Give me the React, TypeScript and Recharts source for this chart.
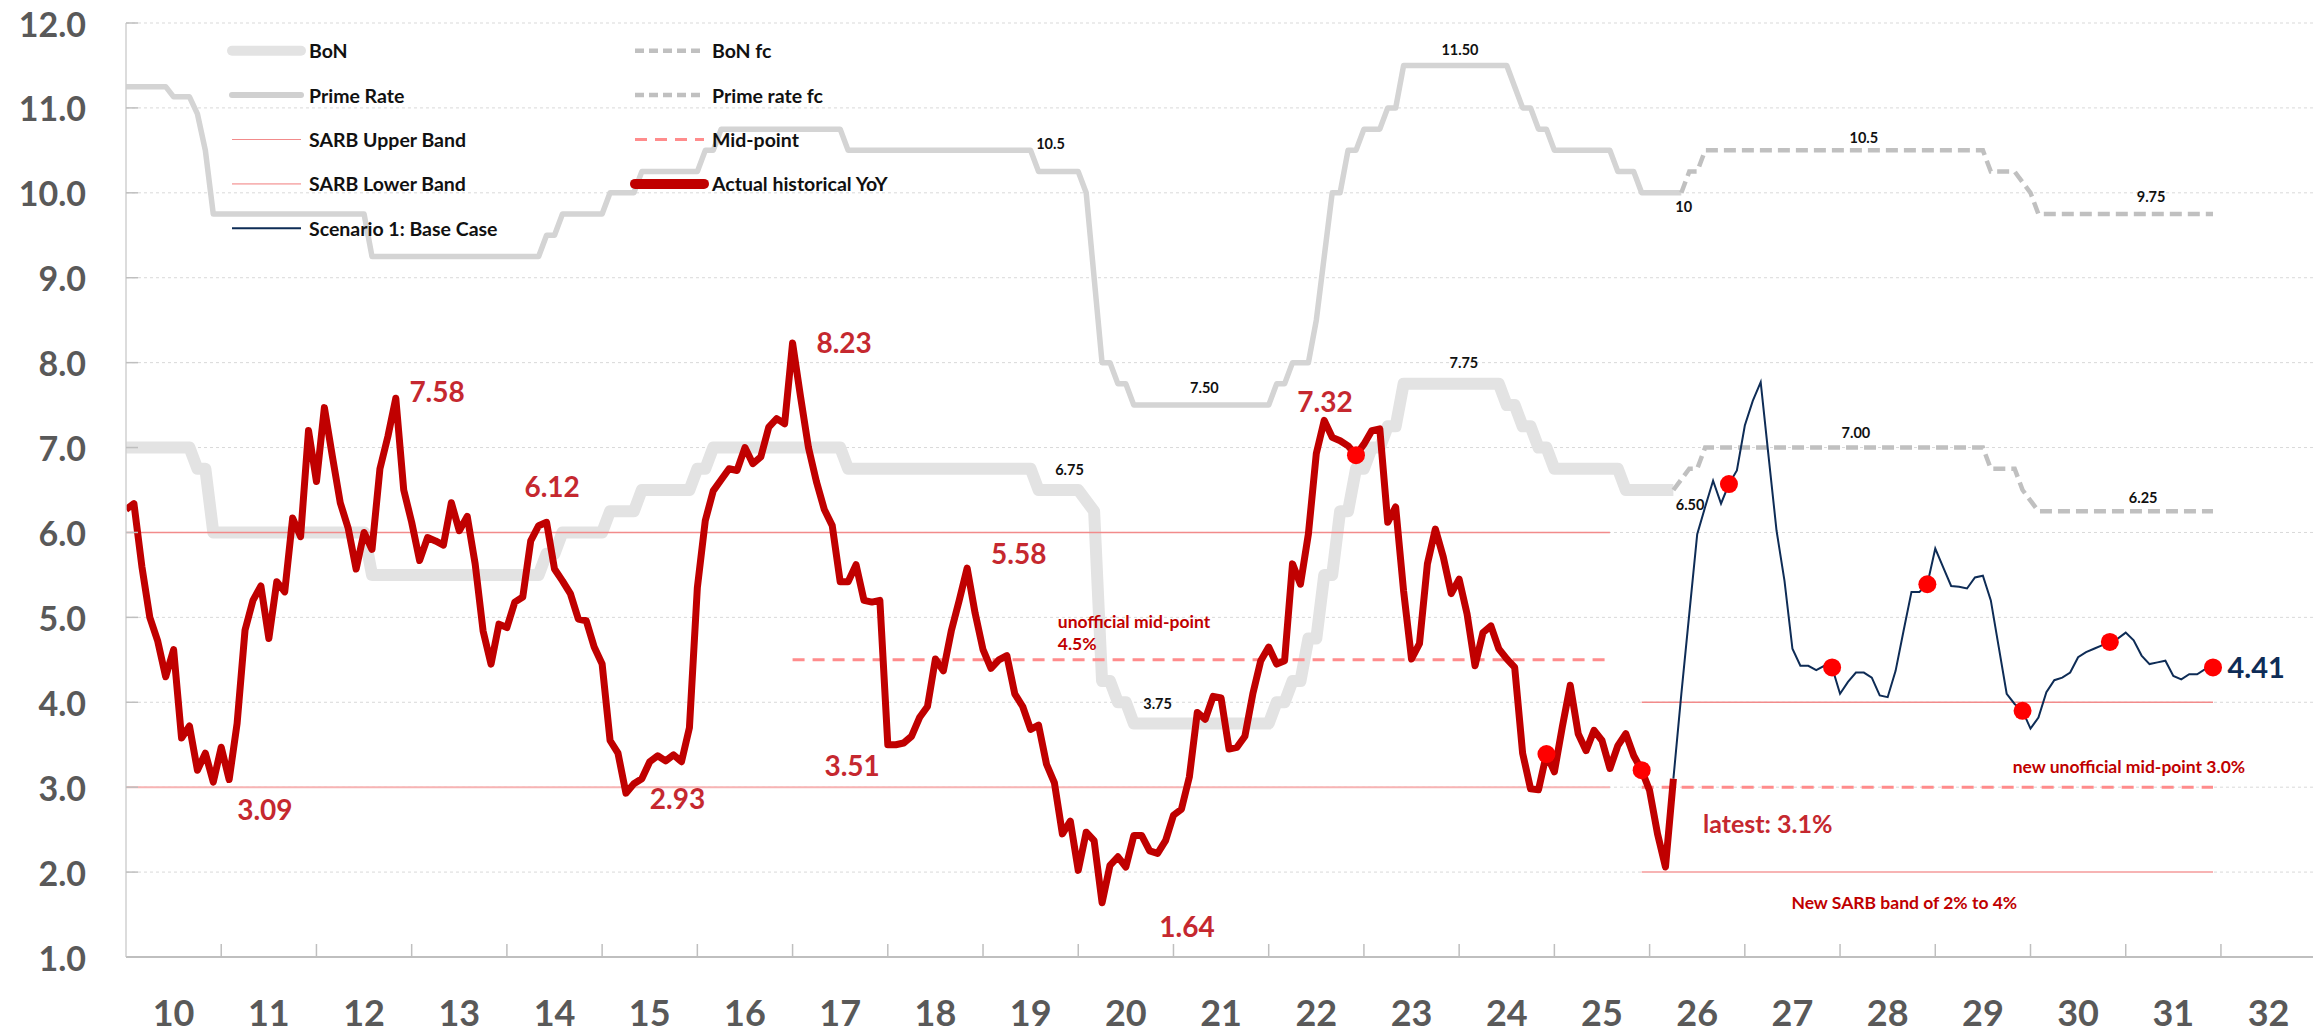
import React from "react";
import { ComposedChart, Line, XAxis, YAxis, CartesianGrid, ReferenceDot } from "recharts";

// x = months counted from Jan 2010 (0)
const yearLabels = ["10","11","12","13","14","15","16","17","18","19","20","21","22","23","24","25","26","27","28","29","30","31","32"];
const yTicks = [1, 2, 3, 4, 5, 6, 7, 8, 9, 10, 11, 12];

const ACTUAL_START = 0;
const actualYoY = [
  6.27, 6.34, 5.6, 5.0, 4.72, 4.3, 4.62, 3.58, 3.72, 3.2, 3.4, 3.06,
  3.47, 3.09, 3.75, 4.85, 5.2, 5.37, 4.75, 5.42, 5.3, 6.17, 5.95, 7.2,
  6.6, 7.47, 6.9, 6.35, 6.05, 5.57, 6.0, 5.8, 6.75, 7.13, 7.58, 6.5,
  6.12, 5.67, 5.94, 5.9, 5.85, 6.35, 6.02, 6.19, 5.63, 4.84, 4.45, 4.92,
  4.88, 5.18, 5.24, 5.9, 6.08, 6.12, 5.57, 5.43, 5.28, 4.98, 4.96, 4.65,
  4.45, 3.55, 3.4, 2.93, 3.04, 3.1, 3.3, 3.37, 3.31, 3.38, 3.3, 3.7,
  5.35, 6.14, 6.49, 6.62, 6.75, 6.73, 7.0, 6.81, 6.89, 7.24, 7.34, 7.28,
  8.23, 7.6, 7.0, 6.6, 6.27, 6.08, 5.42, 5.42, 5.62, 5.2, 5.18, 5.2,
  3.5, 3.5, 3.52, 3.6, 3.82, 3.95, 4.51, 4.37, 4.84, 5.2, 5.58, 5.05,
  4.62, 4.4, 4.5, 4.55, 4.1, 3.95, 3.68, 3.73, 3.27, 3.05, 2.45, 2.6,
  2.02, 2.47, 2.37, 1.64, 2.08, 2.18, 2.06, 2.43, 2.43, 2.25, 2.22, 2.37,
  2.67, 2.74, 3.12, 3.88, 3.8, 4.07, 4.05, 3.45, 3.47, 3.6, 4.1, 4.49,
  4.65, 4.45, 4.49, 5.63, 5.39, 5.98, 6.93, 7.32, 7.12, 7.08, 7.02, 6.91,
  7.04, 7.2, 7.22, 6.12, 6.3, 5.31, 4.51, 4.69, 5.63, 6.04, 5.71, 5.28,
  5.45, 5.04, 4.43, 4.82, 4.9, 4.63, 4.51, 4.41, 3.4, 2.98, 2.97, 3.39,
  3.18, 3.71, 4.2, 3.63, 3.43, 3.67, 3.55, 3.22, 3.49, 3.63, 3.37, 3.2,
  2.96, 2.45, 2.06, 3.1,
];

const SCENARIO_START = 195;
const scenarioBase = [
  3.1, 4.1, 5.04, 5.98, 6.3, 6.61, 6.34, 6.57, 6.73, 7.26, 7.55, 7.77,
  6.89, 6.02, 5.43, 4.63, 4.43, 4.43, 4.38, 4.43, 4.41, 4.1, 4.24, 4.35,
  4.35, 4.29, 4.08, 4.06, 4.37, 4.84, 5.3, 5.3, 5.39, 5.81, 5.59, 5.37,
  5.36, 5.34, 5.47, 5.49, 5.2, 4.65, 4.1, 3.98, 3.9, 3.69, 3.82, 4.12,
  4.26, 4.29, 4.35, 4.53, 4.59, 4.63, 4.67, 4.71, 4.75, 4.82, 4.73, 4.55,
  4.45, 4.47, 4.49, 4.31, 4.27, 4.33, 4.33, 4.39, 4.41,
];

// year-end markers
const markerMonths = [155, 179, 191, 202, 215, 227, 239, 250, 263];
const markerValues = [6.91, 3.39, 3.2, 6.57, 4.41, 5.39, 3.9, 4.71, 4.41];

// [month, rate] vertices
const bonSteps = [
  [0, 7], [8, 7], [9, 6.75], [10, 6.75], [11, 6], [30, 6], [31, 5.5], [52, 5.5], [53, 5.75], [54, 5.75],
  [55, 6], [60, 6], [61, 6.25], [64, 6.25], [65, 6.5], [71, 6.5], [72, 6.75], [73, 6.75], [74, 7], [90, 7],
  [91, 6.75], [114, 6.75], [115, 6.5], [120, 6.5], [122, 6.25], [123, 4.25], [124, 4.25], [125, 4], [126, 4],
  [127, 3.75], [144, 3.75], [145, 4], [146, 4], [147, 4.25], [148, 4.25], [149, 4.75], [150, 4.75], [151, 5.5], [152, 5.5], [153, 6.25],
  [154, 6.25], [155, 6.75], [156, 6.75], [157, 7], [158, 7], [159, 7.25], [160, 7.25], [161, 7.75], [173, 7.75], [174, 7.5],
  [175, 7.5], [176, 7.25], [177, 7.25], [178, 7], [179, 7], [180, 6.75], [188, 6.75], [189, 6.5], [195, 6.5],
];
const primeSteps = [
  [0, 11.25], [5, 11.25], [6, 11.13], [8, 11.13], [9, 10.93], [10, 10.5], [11, 9.75], [30, 9.75], [31, 9.25], [52, 9.25],
  [53, 9.5], [54, 9.5], [55, 9.75], [60, 9.75], [61, 10], [64, 10], [65, 10.25], [72, 10.25], [73, 10.5], [74, 10.5],
  [75, 10.75], [90, 10.75], [91, 10.5], [114, 10.5], [115, 10.25], [120, 10.25], [121, 10], [123, 8], [124, 8],
  [125, 7.75], [126, 7.75], [127, 7.5], [144, 7.5], [145, 7.75], [146, 7.75], [147, 8], [149, 8], [150, 8.5],
  [151, 9.25], [152, 10], [153, 10], [154, 10.5], [155, 10.5], [156, 10.75], [158, 10.75], [159, 11], [160, 11], [161, 11.5],
  [174, 11.5], [175, 11.25], [176, 11], [177, 11], [178, 10.75], [179, 10.75], [180, 10.5], [187, 10.5], [188, 10.25], [190, 10.25],
  [191, 10], [196, 10],
];
const bonFcSteps = [[195, 6.5], [197, 6.75], [198, 6.75], [199, 7], [234, 7], [235, 6.75], [238, 6.75], [239, 6.5], [241, 6.25], [263, 6.25]];
const primeFcSteps = [[196, 10], [197, 10.25], [198, 10.25], [199, 10.5], [234, 10.5], [235, 10.25], [238, 10.25], [240, 10], [241, 9.75], [263, 9.75]];

const upperBand = [[0, 6], [187, 6], [189, null], [191, 4], [263, 4]];
const lowerBand = [[0, 3], [187, 3], [189, null], [191, 2], [263, 2]];
const midPoint = [[84, 4.5], [187, 4.5], [189, null], [191, 3], [263, 3]];

const FONT = "Lato, 'Open Sans', 'Liberation Sans', sans-serif";
const RED_TXT = "#c5282f";

type Note = { m: number; v: number; text: string; kind: "big" | "navy" | "small" | "smallC" | "black" | "latest" };
const notes: Note[] = [
  { m: 17.5, v: 2.73, text: "3.09", kind: "big" },
  { m: 39.2, v: 7.65, text: "7.58", kind: "big" },
  { m: 53.7, v: 6.53, text: "6.12", kind: "big" },
  { m: 69.5, v: 2.86, text: "2.93", kind: "big" },
  { m: 90.5, v: 8.23, text: "8.23", kind: "big" },
  { m: 112.5, v: 5.75, text: "5.58", kind: "big" },
  { m: 91.5, v: 3.25, text: "3.51", kind: "big" },
  { m: 133.7, v: 1.35, text: "1.64", kind: "big" },
  { m: 151.1, v: 7.54, text: "7.32", kind: "big" },
  { m: 198.6, v: 2.56, text: "latest: 3.1%", kind: "latest" },
  { m: 264.7, v: 4.41, text: "4.41", kind: "navy" },
  { m: 117.3, v: 4.95, text: "unofficial mid-point", kind: "small" },
  { m: 117.3, v: 4.69, text: "4.5%", kind: "small" },
  { m: 252.4, v: 3.24, text: "new unofficial mid-point 3.0%", kind: "smallC" },
  { m: 224.1, v: 1.64, text: "New SARB band of 2% to 4%", kind: "smallC" },
  { m: 116.5, v: 10.58, text: "10.5", kind: "black" },
  { m: 168.1, v: 11.68, text: "11.50", kind: "black" },
  { m: 196.3, v: 9.83, text: "10", kind: "black" },
  { m: 219, v: 10.65, text: "10.5", kind: "black" },
  { m: 255.2, v: 9.95, text: "9.75", kind: "black" },
  { m: 118.9, v: 6.74, text: "6.75", kind: "black" },
  { m: 135.9, v: 7.7, text: "7.50", kind: "black" },
  { m: 130, v: 3.98, text: "3.75", kind: "black" },
  { m: 168.6, v: 8.0, text: "7.75", kind: "black" },
  { m: 197.1, v: 6.33, text: "6.50", kind: "black" },
  { m: 218, v: 7.17, text: "7.00", kind: "black" },
  { m: 254.2, v: 6.41, text: "6.25", kind: "black" },
];

const noteStyle = {
  big: { fill: RED_TXT, fontSize: 28, fontWeight: 700, position: "center" },
  latest: { fill: RED_TXT, fontSize: 25, fontWeight: 700, position: "right" },
  navy: { fill: "#0e2c56", fontSize: 29, fontWeight: 700, position: "right" },
  small: { fill: "#c00000", fontSize: 17.5, fontWeight: 700, position: "right" },
  smallC: { fill: "#c00000", fontSize: 17.5, fontWeight: 700, position: "center" },
  black: { fill: "#111", fontSize: 14.5, fontWeight: 700, position: "center" },
} as const;

const pts = (pairs: (number | null)[][]) => pairs.map(([m, v]) => ({ m, v }));
const actualData = actualYoY.map((v, i) => ({ m: ACTUAL_START + i, v }));
const scenarioData = scenarioBase.map((v, i) => ({ m: SCENARIO_START + i, v }));
const markerData = markerMonths.map((m, i) => ({ m, v: markerValues[i] }));

const xTicks = [
  ...yearLabels.slice(1).map((_, i) => (i + 1) * 12),
  ...yearLabels.map((_, i) => i * 12 + 6),
];

function XTick(props: any) {
  const { x, y, payload } = props;
  const v = payload.value as number;
  if (v % 12 === 0) {
    return <line x1={x} x2={x} y1={y} y2={y - 13} stroke="#bfbfbf" strokeWidth={1.5} />;
  }
  return (
    <text x={x} y={y + 55} textAnchor="middle" dominantBaseline="central" fontFamily={FONT} fontWeight={700} fontSize={36} fill="#595959">
      {yearLabels[(v - 6) / 12]}
    </text>
  );
}

function YTick(props: any) {
  const { x, y, payload } = props;
  return (
    <g>
      <line x1={x} x2={x + 12} y1={y} y2={y} stroke="#bfbfbf" strokeWidth={1.5} />
      <text x={x - 40} y={y} textAnchor="end" dominantBaseline="central" fontFamily={FONT} fontWeight={700} fontSize={34} fill="#595959">
        {Number(payload.value).toFixed(1)}
      </text>
    </g>
  );
}

const legendCol1 = ["BoN", "Prime Rate", "SARB Upper Band", "SARB Lower Band", "Scenario 1: Base Case"];
const legendCol2 = ["BoN fc", "Prime rate fc", "Mid-point", "Actual historical YoY"];
const legendStroke: Record<string, { stroke: string; w: number; dash?: string; cap?: "round" | "butt" }> = {
  "BoN": { stroke: "#e3e3e3", w: 10, cap: "round" },
  "Prime Rate": { stroke: "#d0d0d0", w: 6, cap: "round" },
  "SARB Upper Band": { stroke: "#f28b8b", w: 1.2 },
  "SARB Lower Band": { stroke: "#f7b4b4", w: 1.8 },
  "Scenario 1: Base Case": { stroke: "#0e2c56", w: 2 },
  "BoN fc": { stroke: "#c0c0c0", w: 4.5, dash: "9 5" },
  "Prime rate fc": { stroke: "#c0c0c0", w: 4.5, dash: "9 5" },
  "Mid-point": { stroke: "#ff8c8c", w: 3, dash: "12 8" },
  "Actual historical YoY": { stroke: "#c00000", w: 10, cap: "round" },
};

function LegendOverlay() {
  const cols = [
    { items: legendCol1, x1: 232, x2: 301, tx: 309 },
    { items: legendCol2, x1: 635, x2: 704, tx: 712 },
  ];
  return (
    <svg width={1000} height={260} style={{ position: "absolute", left: 0, top: 0, pointerEvents: "none" }}>
      {cols.map((c) =>
        c.items.map((name, i) => {
          const s = legendStroke[name];
          const y = 50.7 + i * 44.4;
          return (
            <g key={name}>
              <line x1={c.x1} x2={c.x2} y1={y} y2={y} stroke={s.stroke} strokeWidth={s.w} strokeDasharray={s.dash} strokeLinecap={s.cap || "butt"} />
              <text x={c.tx} y={y} dominantBaseline="central" fontFamily={FONT} fontWeight={700} fontSize={19.5} fill="#111">{name}</text>
            </g>
          );
        })
      )}
    </svg>
  );
}

export default function App() {
  return (
    <div style={{ position: "relative", width: 2313, height: 1033, background: "#fff" }}>
      <style>{"body{margin:0}"}</style>
      <ComposedChart width={2313} height={1033} margin={{ top: 23, right: 0, bottom: 0, left: 0 }}>
        <CartesianGrid vertical={false} stroke="#d9d9d9" strokeDasharray="3 3" />
        <XAxis
          dataKey="m"
          type="number"
          domain={[0, 275.6]}
          allowDataOverflow
          ticks={xTicks}
          interval={0}
          tick={<XTick />}
          tickLine={false}
          tickSize={0}
          tickMargin={0}
          height={76}
          axisLine={{ stroke: "#bfbfbf", strokeWidth: 2 }}
        />
        <YAxis
          type="number"
          domain={[1, 12]}
          allowDataOverflow
          ticks={yTicks}
          interval={0}
          tick={<YTick />}
          tickLine={false}
          tickSize={0}
          tickMargin={0}
          width={126}
          axisLine={{ stroke: "#d0d0d0", strokeWidth: 1.5 }}
        />
        <Line data={pts(bonSteps)} dataKey="v" stroke="#e3e3e3" strokeWidth={12} dot={false} isAnimationActive={false} strokeLinejoin="round" />
        <Line data={pts(primeSteps)} dataKey="v" stroke="#d4d4d4" strokeWidth={5.5} dot={false} isAnimationActive={false} strokeLinejoin="round" />
        <Line data={pts(upperBand)} dataKey="v" stroke="#f28b8b" strokeWidth={1.5} dot={false} isAnimationActive={false} />
        <Line data={pts(lowerBand)} dataKey="v" stroke="#f7b4b4" strokeWidth={2} dot={false} isAnimationActive={false} />
        <Line data={pts(midPoint)} dataKey="v" stroke="#ff8c8c" strokeWidth={3} strokeDasharray="12 8" dot={false} isAnimationActive={false} />
        <Line data={pts(bonFcSteps)} dataKey="v" stroke="#c0c0c0" strokeWidth={4.5} strokeDasharray="12 6" dot={false} isAnimationActive={false} />
        <Line data={pts(primeFcSteps)} dataKey="v" stroke="#c0c0c0" strokeWidth={4.5} strokeDasharray="12 6" dot={false} isAnimationActive={false} />
        <Line data={actualData} dataKey="v" stroke="#c00000" strokeWidth={7} dot={false} isAnimationActive={false} strokeLinejoin="round" />
        <Line data={scenarioData} dataKey="v" stroke="#0e2c56" strokeWidth={2} dot={false} isAnimationActive={false} />
        <Line data={markerData} dataKey="v" stroke="none" dot={{ r: 9, fill: "#ff0000", stroke: "none" }} isAnimationActive={false} />
        {notes.map((n, i) => {
          const s = noteStyle[n.kind];
          return (
            <ReferenceDot
              key={i}
              x={n.m}
              y={n.v}
              r={1}
              fill="none"
              stroke="none"
              ifOverflow="visible"
              label={{ value: n.text, position: s.position, offset: 0, fill: s.fill, fontSize: s.fontSize, fontWeight: s.fontWeight, fontFamily: FONT }}
            />
          );
        })}
      </ComposedChart>
      <LegendOverlay />
    </div>
  );
}
